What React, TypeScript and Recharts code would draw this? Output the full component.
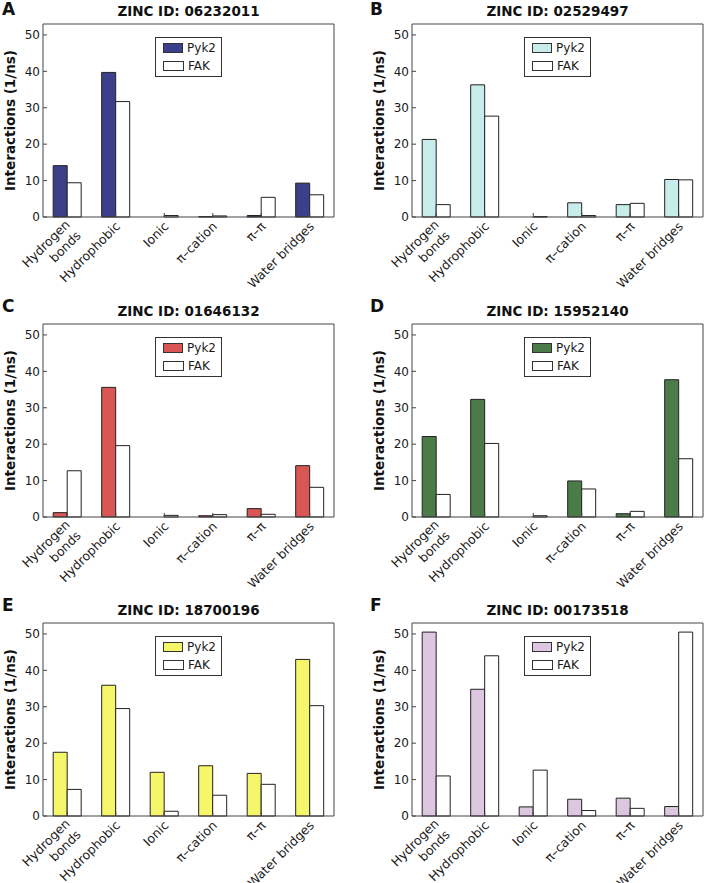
import React from 'react';
import { BarChart, Bar, XAxis, YAxis, Legend } from 'recharts';

// interaction types on the x axis, same for every panel
const categories = ['Hydrogen\nbonds', 'Hydrophobic', 'Ionic', 'π–cation', 'π–π', 'Water bridges'];
const yTicks = [0, 10, 20, 30, 40, 50];
const seriesOrder = ['Pyk2', 'FAK'];

// values (1/ns)
const pyk2A = [14.1, 39.7, 0, 0.1, 0.4, 9.3];
const fakA = [9.4, 31.7, 0.4, 0.3, 5.4, 6.1];
const pyk2B = [21.3, 36.3, 0, 3.9, 3.4, 10.3];
const fakB = [3.4, 27.7, 0.1, 0.4, 3.75, 10.2];
const pyk2C = [1.2, 35.6, 0, 0.35, 2.3, 14.1];
const fakC = [12.7, 19.6, 0.45, 0.65, 0.75, 8.15];
const pyk2D = [22.1, 32.3, 0, 9.9, 0.9, 37.7];
const fakD = [6.2, 20.2, 0.35, 7.7, 1.55, 16.0];
const pyk2E = [17.5, 35.9, 12.0, 13.8, 11.7, 43.0];
const fakE = [7.3, 29.5, 1.3, 5.7, 8.7, 30.3];
const pyk2F = [50.5, 34.8, 2.5, 4.6, 4.9, 2.6];
const fakF = [11.0, 44.0, 12.6, 1.5, 2.1, 50.5];

const panels = [
  { letter: 'A', zinc: '06232011', color: '#3c408b', pyk2: pyk2A, fak: fakA },
  { letter: 'B', zinc: '02529497', color: '#c8ecea', pyk2: pyk2B, fak: fakB },
  { letter: 'C', zinc: '01646132', color: '#d95654', pyk2: pyk2C, fak: fakC },
  { letter: 'D', zinc: '15952140', color: '#4b7b48', pyk2: pyk2D, fak: fakD },
  { letter: 'E', zinc: '18700196', color: '#f6f66b', pyk2: pyk2E, fak: fakE },
  { letter: 'F', zinc: '00173518', color: '#dcc6e0', pyk2: pyk2F, fak: fakF },
];

const FONT = '"DejaVu Sans", "Liberation Sans", sans-serif';
const AXIS = '#444';
const W = 352;
const H = 300;
const PLOT_W = 291;
const PLOT_TOP = 24;
const PLOT_H = 193;
const rowTops = [0, 300, 599];
const letterBase = [15, 12, 12];

const CategoryTick = (props: any) => {
  const { x, y, payload } = props;
  const lines = String(payload.value).split('\n');
  return (
    <g transform={`translate(${x + 2},${y + 1})`}>
      <text transform="rotate(-45)" textAnchor="end" fontSize={12.5} fontFamily={FONT} fill="#1a1a1a">
        {lines.map((l, i) => (
          <tspan key={i} x={0} dy={i === 0 ? (lines.length > 1 ? '0.15em' : '0.35em') : '1.25em'}>
            {l}
          </tspan>
        ))}
      </text>
    </g>
  );
};

const LegendBox = (props: any) => {
  const items = [...(props.payload || [])].sort(
    (a: any, b: any) => seriesOrder.indexOf(a.value) - seriesOrder.indexOf(b.value)
  );
  return (
    <div
      style={{
        border: '1px solid #333',
        background: '#fff',
        padding: '1px 5px 1px 7px',
        fontFamily: FONT,
        fontSize: 12,
        color: '#1a1a1a',
        boxSizing: 'border-box',
      }}
    >
      {items.map((e: any) => (
        <div key={e.value} style={{ display: 'flex', alignItems: 'center', height: 18 }}>
          <span
            style={{
              display: 'inline-block',
              width: 19,
              height: 8,
              background: e.color,
              border: '1px solid #333',
              marginRight: 4,
            }}
          />
          <span>{e.value}</span>
        </div>
      ))}
    </div>
  );
};

function Panel({ p, idx }: { p: any; idx: number }) {
  const col = idx % 2;
  const row = Math.floor(idx / 2);
  const yw = col === 0 ? 43 : 60;
  const data = categories.map((name, i) => ({ name, Pyk2: p.pyk2[i], FAK: p.fak[i] }));

  return (
    <div style={{ position: 'absolute', left: col * W, top: rowTops[row], width: W, height: H }}>
      <BarChart
        width={W}
        height={H}
        data={data}
        margin={{ top: PLOT_TOP - 1, right: W - yw - PLOT_W - 1, bottom: H - PLOT_TOP - PLOT_H - 60, left: 0 }}
        barCategoryGap="21%"
        barGap={0}
      >
        <XAxis
          dataKey="name"
          height={60}
          interval={0}
          stroke={AXIS}
          tickSize={-4}
          tickMargin={10}
          tick={<CategoryTick />}
        />
        <XAxis xAxisId="top" orientation="top" dataKey="name" height={1} interval={0} stroke={AXIS} tickSize={-4} tick={false} />
        <YAxis
          width={yw}
          domain={[0, 53]}
          ticks={yTicks}
          stroke={AXIS}
          tickSize={-4}
          tickMargin={7}
          tick={{ fill: '#1a1a1a', fontSize: 12, fontFamily: FONT }}
        />
        <YAxis yAxisId="right" orientation="right" width={1} domain={[0, 53]} ticks={yTicks} stroke={AXIS} tickSize={-4} tick={false} />
        <Legend
          verticalAlign="middle"
          align="center"
          layout="horizontal"
          content={<LegendBox />}
          wrapperStyle={{ top: PLOT_TOP + 13, left: yw + 112, width: 67 }}
        />
        <Bar dataKey="Pyk2" name="Pyk2" fill={p.color} stroke="#222" strokeWidth={1} isAnimationActive={false} />
        <Bar dataKey="FAK" name="FAK" fill="#ffffff" stroke="#222" strokeWidth={1} isAnimationActive={false} />
      </BarChart>
      <svg
        width={W}
        height={H}
        style={{ position: 'absolute', left: 0, top: 0, pointerEvents: 'none', overflow: 'visible' }}
      >
        <text x={col === 0 ? 2 : 18} y={letterBase[row]} fontSize={17} fontWeight="bold" fontFamily={FONT} fill="#111">
          {p.letter}
        </text>
        <text
          x={yw + PLOT_W / 2}
          y={PLOT_TOP - 8.5}
          textAnchor="middle"
          fontSize={13.5}
          fontWeight="bold"
          fontFamily={FONT}
          fill="#111"
        >
          {`ZINC ID: ${p.zinc}`}
        </text>
        <text
          x={yw - 33}
          y={PLOT_TOP + PLOT_H / 2}
          transform={`rotate(-90 ${yw - 33} ${PLOT_TOP + PLOT_H / 2})`}
          textAnchor="middle"
          dominantBaseline="central"
          fontSize={13.5}
          fontWeight="bold"
          fontFamily={FONT}
          fill="#111"
        >
          Interactions (1/ns)
        </text>
      </svg>
    </div>
  );
}

export default function App() {
  return (
    <div
      style={{
        position: 'absolute',
        left: 0,
        top: 0,
        width: 704,
        height: 883,
        background: '#fff',
        overflow: 'hidden',
      }}
    >
      {panels.map((p, i) => (
        <Panel key={p.letter} p={p} idx={i} />
      ))}
    </div>
  );
}
